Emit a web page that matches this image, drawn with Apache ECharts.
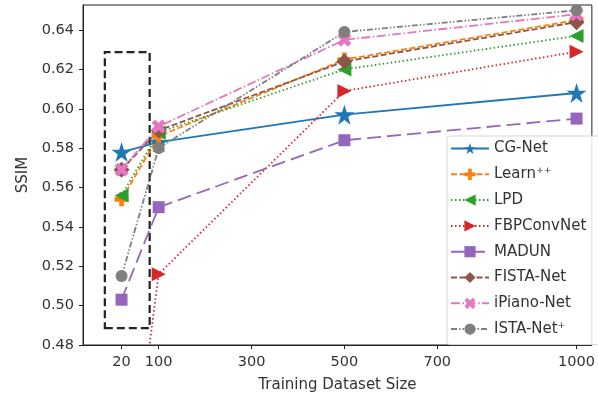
<!DOCTYPE html>
<html>
<head>
<meta charset="utf-8">
<script src="https://cdn.jsdelivr.net/npm/echarts@6/dist/echarts.min.js"></script>
<style>
html,body{margin:0;padding:0;background:#fff;}
#c{width:598px;height:399px;}
</style>
</head>
<body>
<div id="c"></div>
<script>
// ---- data ----
const trainSizes = [20, 100, 500, 1000];
const xTicks = [20, 100, 300, 500, 700, 1000];
const yTicks = [0.48, 0.50, 0.52, 0.54, 0.56, 0.58, 0.60, 0.62, 0.64];
const cgNet      = [0.578, 0.583, 0.597, 0.608];
const learnPP    = [0.554, 0.586, 0.625, 0.645];
const lpd        = [0.556, 0.588, 0.620, 0.637];
const fbpConvNet = [0.370, 0.516, 0.609, 0.629];
const madun      = [0.503, 0.550, 0.584, 0.595];
const fistaNet   = [0.569, 0.589, 0.624, 0.644];
const iPianoNet  = [0.569, 0.591, 0.635, 0.648];
const istaNetP   = [0.515, 0.580, 0.639, 0.650];
const highlightBox = [[-16, 0.4886], [80.6, 0.6288]];

const pair = arr => trainSizes.map((x, i) => [x, arr[i]]);

const STAR = 'path://M0,-10 L2.245,-3.09 L9.51,-3.09 L3.633,1.18 L5.878,8.09 L0,3.82 L-5.878,8.09 L-3.633,1.18 L-9.51,-3.09 L-2.245,-3.09 Z';
const PLUS = 'path://M-1,-3 L1,-3 L1,-1 L3,-1 L3,1 L1,1 L1,3 L-1,3 L-1,1 L-3,1 L-3,-1 L-1,-1 Z';
const XMARK = 'path://M1.414,-2.828 L2.828,-1.414 L1.414,0 L2.828,1.414 L1.414,2.828 L0,1.414 L-1.414,2.828 L-2.828,1.414 L-1.414,0 L-2.828,-1.414 L-1.414,-2.828 L0,-1.414 Z';
const TRI_L = 'path://M-1,0 L1,-1 L1,1 Z';
const TRI_R = 'path://M1,0 L-1,-1 L-1,1 Z';

function mk(name, arr, color, symbol, size, dash) {
  return {
    name: name, type: 'line', data: pair(arr),
    symbol: symbol, symbolSize: size,
    lineStyle: { color: color, width: 1.8, type: dash },
    itemStyle: { color: color },
    clip: true, animation: false
  };
}

const series = [
  mk('CG-Net', cgNet, '#1f77b4', STAR, 20, 'solid'),
  mk('Learn⁺⁺', learnPP, '#ff7f0e', PLUS, 14, [6, 2.5]),
  mk('LPD', lpd, '#2ca02c', TRI_L, 14, [1.5, 2.5]),
  mk('FBPConvNet', fbpConvNet, '#d62728', TRI_R, 14, [1.5, 2.5]),
  mk('MADUN', madun, '#9467bd', 'rect', 12, [14, 6]),
  mk('FISTA-Net', fistaNet, '#8c564b', 'diamond', 16, [6, 2.5]),
  mk('iPiano-Net', iPianoNet, '#e377c2', XMARK, 14, [9, 2.5, 1.5, 2.5]),
  mk('ISTA-Net⁺', istaNetP, '#7f7f7f', 'circle', 12, [6, 2, 1.5, 2, 1.5, 2])
];
series.push({
  name: 'box', type: 'line', data: [], silent: true,
  markArea: {
    silent: true,
    itemStyle: { color: 'rgba(0,0,0,0)', borderColor: '#222', borderWidth: 2.2, borderType: [8, 4] },
    label: { show: false },
    data: [[{ coord: highlightBox[0] }, { coord: highlightBox[1] }]]
  },
  z: 5
});

const chart = echarts.init(document.getElementById('c'), null, { renderer: 'canvas' });
chart.setOption({
  animation: false,
  backgroundColor: '#fff',
  grid: { left: 83, right: 1, top: 5, bottom: 54, show: true, borderColor: '#222', borderWidth: 1, backgroundColor: 'transparent' },
  xAxis: {
    type: 'value', min: -63, max: 1033,
    name: 'Training Dataset Size', nameLocation: 'middle', nameGap: 33,
    nameTextStyle: { fontSize: 15, color: '#333', fontFamily: 'DejaVu Sans' },
    axisLine: { show: true, onZero: false, lineStyle: { color: '#222', width: 1 } },
    axisTick: { show: true, length: 4, lineStyle: { color: '#222' }, customValues: xTicks },
    axisLabel: { fontSize: 14.5, color: '#333', fontFamily: 'DejaVu Sans', margin: 10, customValues: xTicks,
      formatter: v => String(v) },
    splitLine: { show: false }
  },
  yAxis: {
    type: 'value', min: 0.48, max: 0.6527,
    name: 'SSIM', nameLocation: 'middle', nameGap: 51,
    nameTextStyle: { fontSize: 15, color: '#333', fontFamily: 'DejaVu Sans' },
    axisLine: { show: true, onZero: false, lineStyle: { color: '#222', width: 1 } },
    axisTick: { show: true, length: 4, lineStyle: { color: '#222' }, customValues: yTicks },
    axisLabel: { fontSize: 14.5, color: '#333', fontFamily: 'DejaVu Sans', margin: 9, customValues: yTicks,
      formatter: v => v.toFixed(2) },
    splitLine: { show: false }
  },
  legend: {
    data: series.slice(0, 8).map(s => s.name),
    orient: 'vertical', left: 447, top: 136,
    itemWidth: 38, itemHeight: 14, itemGap: 10.8,
    padding: [5, 14, 8, 3],
    backgroundColor: 'rgba(255,255,255,0.85)',
    borderColor: '#d5d5d5', borderWidth: 1, borderRadius: 3,
    textStyle: { fontSize: 15, color: '#333', fontFamily: 'DejaVu Sans' }
  },
  series: series
});
</script>
</body>
</html>
